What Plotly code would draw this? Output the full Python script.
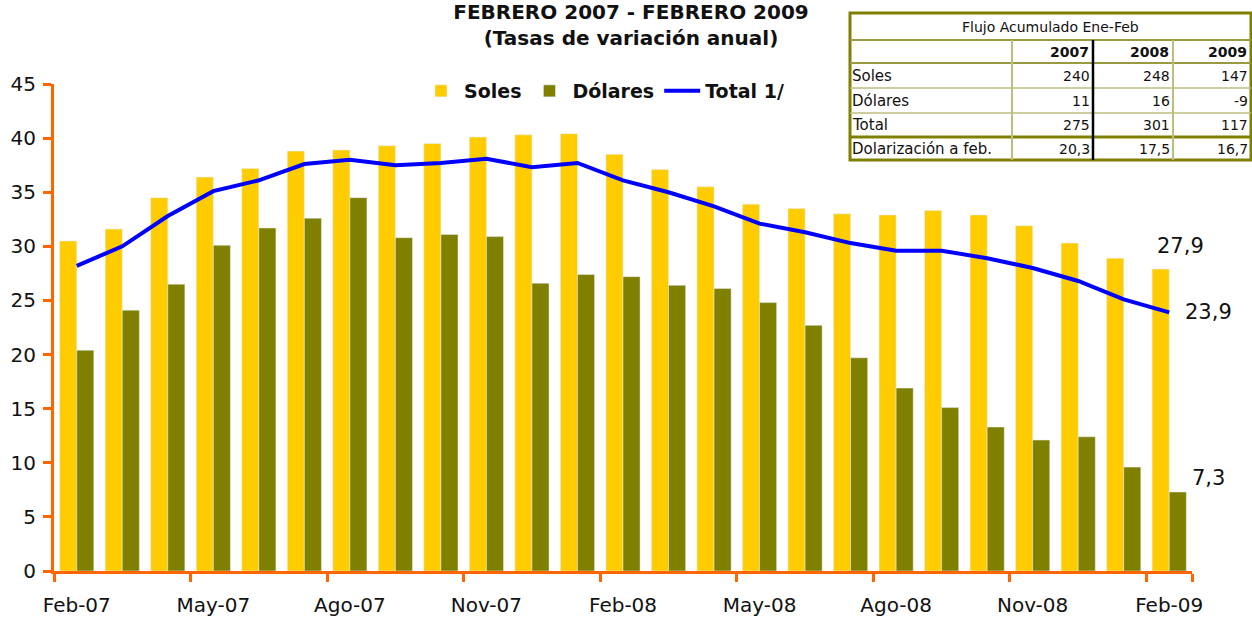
import plotly.graph_objects as go

# ---------------- data ----------------
meses = ["Feb-07", "Mar-07", "Abr-07", "May-07", "Jun-07", "Jul-07", "Ago-07", "Sep-07",
         "Oct-07", "Nov-07", "Dic-07", "Ene-08", "Feb-08", "Mar-08", "Abr-08", "May-08",
         "Jun-08", "Jul-08", "Ago-08", "Sep-08", "Oct-08", "Nov-08", "Dic-08", "Ene-09", "Feb-09"]
soles = [30.5, 31.6, 34.5, 36.4, 37.2, 38.8, 38.9, 39.3, 39.5, 40.1, 40.3, 40.4, 38.5,
         37.1, 35.5, 33.9, 33.5, 33.0, 32.9, 33.3, 32.9, 31.9, 30.3, 28.9, 27.9]
dolares = [20.4, 24.1, 26.5, 30.1, 31.7, 32.6, 34.5, 30.8, 31.1, 30.9, 26.6, 27.4, 27.2,
           26.4, 26.1, 24.8, 22.7, 19.7, 16.9, 15.1, 13.3, 12.1, 12.4, 9.6, 7.3]
total = [28.2, 30.0, 32.8, 35.1, 36.1, 37.6, 38.0, 37.5, 37.7, 38.1, 37.3, 37.7, 36.1,
         35.0, 33.7, 32.1, 31.3, 30.3, 29.6, 29.6, 28.9, 28.0, 26.8, 25.1, 23.9]
etiquetas_x = ["Feb-07", "May-07", "Ago-07", "Nov-07", "Feb-08", "May-08", "Ago-08", "Nov-08", "Feb-09"]
ticks_y = [0, 5, 10, 15, 20, 25, 30, 35, 40, 45]

tabla_titulo = "Flujo Acumulado Ene-Feb"
tabla_anios = ["2007", "2008", "2009"]
tabla_filas = ["Soles", "Dólares", "Total", "Dolarización a feb."]
tabla_valores = [["240", "248", "147"],
                 ["11", "16", "-9"],
                 ["275", "301", "117"],
                 ["20,3", "17,5", "16,7"]]

titulo = "FEBRERO 2007 - FEBRERO 2009<br>(Tasas de variación anual)"

# ---------------- style ----------------
FONT = "DejaVu Sans"
C_SOLES = "#FFCC00"
C_DOL = "#808000"
C_TOT = "#0000FF"
C_AXIS = "#FF6600"
W, H = 1252, 619
ML, MR, MT, MB = 54, 60, 84, 48
PW, PH = W - ML - MR, H - MT - MB


def px(x):
    return (x - ML) / PW


def py(y):
    return (H - MB - y) / PH


fig = go.Figure()
fig.add_trace(go.Bar(x=meses, y=soles, name="Soles", marker_color=C_SOLES))
fig.add_trace(go.Bar(x=meses, y=dolares, name="Dólares", marker_color=C_DOL))
fig.add_trace(go.Scatter(x=meses, y=total, name="Total 1/", mode="lines",
                         line=dict(color=C_TOT, width=4)))

fmt = lambda v: f"{v:.1f}".replace(".", ",")
lfont = dict(family=FONT, size=21, color="#111")
ann = [
    dict(x=meses[-1], y=soles[-1], text=fmt(soles[-1]), showarrow=False,
         xshift=11, yshift=23, font=lfont),
    dict(x=meses[-1], y=total[-1], text=fmt(total[-1]), showarrow=False,
         xanchor="left", xshift=14, yshift=0, font=lfont),
    dict(x=meses[-1], y=dolares[-1], text=fmt(dolares[-1]), showarrow=False,
         xanchor="left", xshift=21, yshift=14, font=lfont),
]

# ---------------- table (shapes + text) ----------------
tx0, tx1 = 850, 1251
ty0, ty1 = 13, 160
row_y = [13, 40, 63, 88, 113, 137, 160]
col_x = [850, 1012, 1093, 1173, 1251]
OLIVE = "#808000"
MID = "#9A9A40"
LIGHT = "#BDBD80"
shapes = []
shapes.append(dict(type="rect", xref="paper", yref="paper", x0=px(tx0), x1=px(tx1),
                   y0=py(ty1), y1=py(ty0), line=dict(color=OLIVE, width=3), fillcolor="white",
                   layer="above"))
line_styles = {1: (MID, 2), 2: (MID, 2), 3: (LIGHT, 1.5), 4: (LIGHT, 1.5), 5: (OLIVE, 3)}
for i, yy in enumerate(row_y[1:-1], start=1):
    col, wd = line_styles[i]
    shapes.append(dict(type="line", xref="paper", yref="paper", x0=px(tx0), x1=px(tx1),
                       y0=py(yy), y1=py(yy), line=dict(color=col, width=wd)))
for j, xx in enumerate(col_x[1:-1], start=1):
    black = (j == 2)
    shapes.append(dict(type="line", xref="paper", yref="paper", x0=px(xx), x1=px(xx),
                       y0=py(row_y[1]), y1=py(ty1),
                       line=dict(color="#000" if black else LIGHT, width=2.5 if black else 2)))

hfont = dict(family=FONT, size=14, color="#111")
yfont = dict(family=FONT, size=14, color="#111", weight="bold")
labfont = dict(family=FONT, size=15, color="#111")
vfont = dict(family=FONT, size=14, color="#111")
ann.append(dict(xref="paper", yref="paper", x=px((tx0 + tx1) / 2), xanchor="center",
                y=py((row_y[0] + row_y[1]) / 2 + 1), yanchor="middle",
                text=tabla_titulo, showarrow=False, font=hfont))
for j, a in enumerate(tabla_anios):
    ann.append(dict(xref="paper", yref="paper", x=px(col_x[j + 2] - 2), xanchor="right",
                    y=py((row_y[1] + row_y[2]) / 2), yanchor="middle",
                    text=a, showarrow=False, font=yfont))
for i, lab in enumerate(tabla_filas):
    yc = py((row_y[i + 2] + row_y[i + 3]) / 2)
    ann.append(dict(xref="paper", yref="paper", x=px(850), xanchor="left", y=yc, yanchor="middle",
                    text=lab, showarrow=False, font=labfont))
    for j, v in enumerate(tabla_valores[i]):
        ann.append(dict(xref="paper", yref="paper", x=px(col_x[j + 2] - 1), xanchor="right",
                        y=yc, yanchor="middle", text=v, showarrow=False, font=vfont))

fig.update_layout(
    width=W, height=H,
    margin=dict(l=ML, r=MR, t=MT, b=MB, autoexpand=False),
    paper_bgcolor="white", plot_bgcolor="white",
    barmode="group", bargap=0.25, bargroupgap=0,
    font=dict(family=FONT, color="#111"),
    title=dict(text=f"<b>{titulo}</b>", x=0.504, xref="container", xanchor="center",
               y=0.97, yref="container", yanchor="top",
               font=dict(family=FONT, size=20, color="#111")),
    legend=dict(orientation="h", x=px(418), xanchor="left", y=py(91), yanchor="middle",
                bgcolor="rgba(0,0,0,0)", font=dict(family=FONT, size=19, color="#111", weight="bold"),
                itemwidth=36, tracegroupgap=0),
    xaxis=dict(type="category", range=[-0.5, len(meses) - 0.5],
               tickmode="array", tickvals=etiquetas_x, ticktext=etiquetas_x,
               tickson="boundaries", ticks="outside", ticklen=8, tickwidth=3, tickcolor=C_AXIS,
               showline=True, linecolor=C_AXIS, linewidth=3, showgrid=False, tickangle=0,
               automargin=False,
               tickfont=dict(family=FONT, size=20, color="#111"), ticklabelstandoff=14),
    yaxis=dict(range=[0, 45], tickmode="array", tickvals=ticks_y, ticks="outside", ticklen=8,
               tickwidth=3, tickcolor=C_AXIS, showline=True, linecolor=C_AXIS, linewidth=3,
               showgrid=False, zeroline=False, automargin=False,
               tickfont=dict(family=FONT, size=20, color="#111"), ticklabelstandoff=3),
    shapes=shapes,
    annotations=ann,
)

fig.write_html("out.html", config={"displayModeBar": False},
               post_script="document.body.style.margin='0';document.body.style.overflow='hidden';")
